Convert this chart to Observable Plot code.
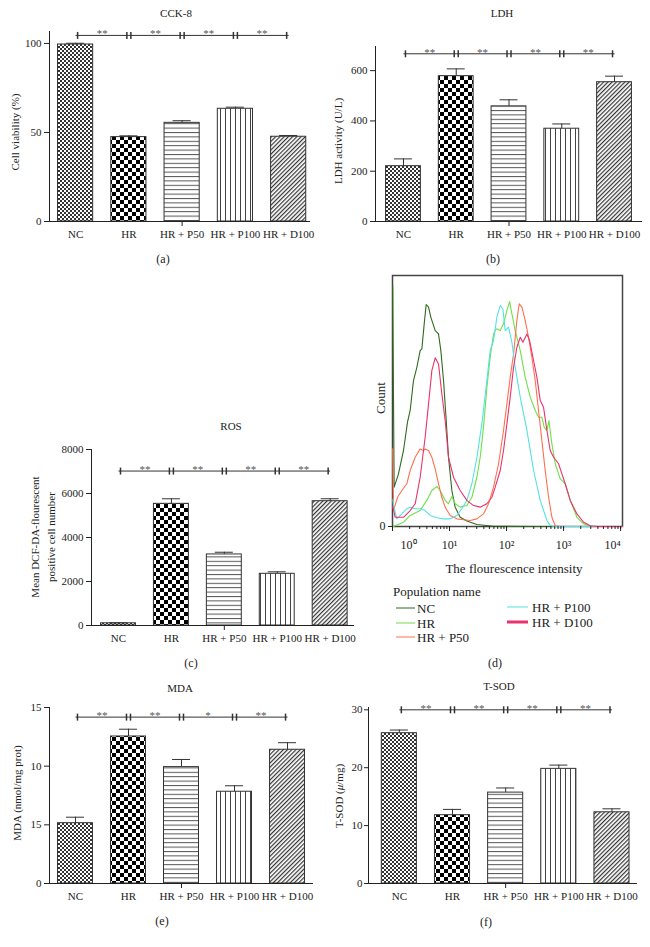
<!DOCTYPE html>
<html><head><meta charset="utf-8">
<script src="https://cdn.jsdelivr.net/npm/d3@7"></script>
<script src="https://cdn.jsdelivr.net/npm/@observablehq/plot@0.6"></script>
<style>
body{margin:0;background:#fff;}
#root{position:relative;width:650px;height:947px;font-family:"Liberation Serif",serif;color:#222;overflow:hidden;}
.t{position:absolute;transform:translate(-50%,-50%);white-space:nowrap;line-height:1;}
.r{position:absolute;transform:translate(-50%,-50%) rotate(-90deg);white-space:nowrap;text-align:center;}
.lg{position:absolute;white-space:nowrap;font-size:13px;line-height:1;transform:translateY(-50%);display:flex;align-items:center;}
.lg span.sw{display:inline-block;margin-right:2px;}
</style>
</head><body>
<svg width="0" height="0" style="position:absolute">
<defs>
<pattern id="pNC" width="4" height="4" patternUnits="userSpaceOnUse"><rect width="4" height="4" fill="#fff"/><rect width="2" height="2" fill="#333"/><rect x="2" y="2" width="2" height="2" fill="#333"/></pattern>
<pattern id="pHR" width="8" height="8" patternUnits="userSpaceOnUse"><rect width="8" height="8" fill="#fff"/><rect width="4" height="4" fill="#000"/><rect x="4" y="4" width="4" height="4" fill="#000"/></pattern>
<pattern id="pP50" width="6" height="4.4" patternUnits="userSpaceOnUse"><rect width="6" height="4.4" fill="#fff"/><rect width="6" height="1" fill="#555"/></pattern>
<pattern id="pP100" width="5" height="6" patternUnits="userSpaceOnUse"><rect width="5" height="6" fill="#fff"/><rect width="1" height="6" fill="#444"/></pattern>
<pattern id="pD100" width="3" height="3" patternUnits="userSpaceOnUse" patternTransform="rotate(45)"><rect width="3" height="3" fill="#fff"/><rect width="1.2" height="3" fill="#333"/></pattern>
</defs></svg>
<div id="root"></div>
<script>
// ---------- data ----------
const groups = ["NC", "HR", "HR + P50", "HR + P100", "HR + D100"];
const groupIndex = [0, 1, 2, 3, 4];
const barFills = ["url(#pNC)", "url(#pHR)", "url(#pP50)", "url(#pP100)", "url(#pD100)"];
const sigPairs = [[0, 1], [1, 2], [2, 3], [3, 4]];

// (a) CCK-8
const cckMean = [99.4, 47.4, 55.4, 63.3, 47.6];
const cckErr = [0.7, 0.7, 1.2, 0.9, 0.7];
const cckTicks = [0, 50, 100];
const cckSig = ["**", "**", "**", "**"];
const cckSigY = 104.5;

// (b) LDH
const ldhMean = [220, 578, 458, 369, 554];
const ldhErr = [29, 29, 26, 19, 24];
const ldhTicks = [0, 200, 400, 600];
const ldhSig = ["**", "**", "**", "**"];
const ldhSigY = 667;

// (c) ROS
const rosMean = [100, 5530, 3230, 2350, 5650];
const rosErr = [20, 230, 100, 90, 110];
const rosTicks = [0, 2000, 4000, 6000, 8000];
const rosSig = ["**", "**", "**", "**"];
const rosSigY = 7020;

// (e) MDA
const mdaMean = [5.14, 12.53, 9.92, 7.82, 11.40];
const mdaErr = [0.51, 0.62, 0.65, 0.51, 0.60];
const mdaTicks = [0, 5, 10, 15];
const mdaTickLabels = ["0", "15", "10", "15"];
const mdaSig = ["**", "**", "*", "**"];
const mdaSigY = 14.18;

// (f) T-SOD
const sodMean = [25.96, 11.8, 15.7, 19.8, 12.3];
const sodErr = [0.55, 1.0, 0.8, 0.65, 0.6];
const sodTicks = [0, 10, 20, 30];
const sodSig = ["**", "**", "**", "**"];
const sodSigY = 30;

// (d) flow cytometry histograms: [log10 fluorescence intensity, count (% of max)]
const flowNames = ["NC", "HR", "HR + P50", "HR + P100", "HR + D100"];
const flowColors = ["#2f6b1e", "#6ee04a", "#ff7050", "#55e2e2", "#e8336b"];
const flowTicks = [1, 10, 100, 1000, 10000];
const flowSup = ["\u2070", "\u00b9", "\u00b2", "\u00b3", "\u2074"];
const flowNC = [[0.003,107.1],[0.029,17.5],[0.105,23.4],[0.193,33.8],[0.263,46.4],[0.31,51.6],[0.368,64.9],[0.427,70.8],[0.485,78.2],[0.515,79.0],[0.556,90.1],[0.591,98.7],[0.632,97.5],[0.673,93.0],[0.749,87.1],[0.807,85.6],[0.848,78.2],[0.895,64.9],[0.942,47.1],[0.982,30.8],[1.041,16.0],[1.099,8.6],[1.187,4.1],[1.304,2.4],[1.48,0.9],[1.772,0.1],[2.5,0],[4.03,0]];
const flowHR = [[0.018,0],[0.047,0.3],[0.193,1.9],[0.31,4.9],[0.485,7.1],[0.602,11.6],[0.69,16.0],[0.778,17.8],[0.836,16.0],[0.924,11.6],[0.982,10.1],[1.041,13.3],[1.099,10.1],[1.187,8.6],[1.304,9.3],[1.392,13.0],[1.48,21.9],[1.538,30.8],[1.596,44.1],[1.655,61.9],[1.713,75.3],[1.772,85.6],[1.819,87.9],[1.889,87.1],[1.947,90.1],[2.006,96.0],[2.053,100],[2.094,94.5],[2.152,87.1],[2.24,78.2],[2.327,66.4],[2.415,57.5],[2.503,51.6],[2.561,48.6],[2.62,48.6],[2.661,44.1],[2.708,42.7],[2.743,47.1],[2.795,36.7],[2.854,27.9],[2.942,21.2],[3.029,19.0],[3.117,11.6],[3.234,4.1],[3.351,1.2],[3.468,0],[4.03,0]];
const flowP50 = [[0.003,34.5],[0.018,7.1],[0.088,13.0],[0.164,16.0],[0.251,19.0],[0.31,24.9],[0.398,30.8],[0.485,34.5],[0.544,33.8],[0.573,34.5],[0.632,33.8],[0.69,30.8],[0.749,25.6],[0.807,19.0],[0.865,13.0],[0.924,8.6],[1.012,4.9],[1.129,3.4],[1.246,3.0],[1.363,2.7],[1.48,3.4],[1.596,5.6],[1.684,10.1],[1.772,17.5],[1.86,27.9],[1.947,42.7],[2.006,54.5],[2.064,66.4],[2.123,76.7],[2.181,91.6],[2.222,99.0],[2.269,97.5],[2.327,91.6],[2.386,84.1],[2.444,75.3],[2.503,64.9],[2.561,51.6],[2.62,38.2],[2.678,24.9],[2.737,13.0],[2.795,4.1],[2.854,0.3],[2.95,0],[4.03,0]];
const flowP100 = [[0.006,12.0],[0.018,9.3],[0.076,3.4],[0.164,5.6],[0.251,7.9],[0.31,8.6],[0.398,7.9],[0.485,7.9],[0.573,7.1],[0.661,4.9],[0.778,3.9],[0.895,3.4],[1.012,3.4],[1.129,4.9],[1.216,7.9],[1.304,11.6],[1.392,19.0],[1.48,30.8],[1.567,45.6],[1.655,64.9],[1.713,78.2],[1.772,82.7],[1.83,93.0],[1.889,98.2],[1.936,96.7],[1.977,87.1],[2.035,88.6],[2.094,81.9],[2.152,70.8],[2.24,57.5],[2.357,42.7],[2.474,24.9],[2.591,11.6],[2.708,2.7],[2.766,0.4],[2.85,0],[4.03,0]];
const flowD100 = [[0.003,9.0],[0.047,4.1],[0.193,4.1],[0.31,7.1],[0.398,10.1],[0.485,21.9],[0.573,39.7],[0.632,54.5],[0.69,69.3],[0.749,75.0],[0.807,72.3],[0.865,59.0],[0.924,47.1],[0.982,30.8],[1.07,21.9],[1.187,16.0],[1.304,11.6],[1.421,9.3],[1.538,8.6],[1.655,10.1],[1.743,13.0],[1.801,17.5],[1.889,24.9],[1.947,33.8],[2.006,45.6],[2.064,57.5],[2.123,70.8],[2.181,79.7],[2.24,84.1],[2.287,81.9],[2.357,85.6],[2.404,82.7],[2.474,73.8],[2.532,66.4],[2.591,56.0],[2.649,53.0],[2.708,42.7],[2.766,33.8],[2.825,30.8],[2.912,27.9],[2.971,23.4],[3.029,19.0],[3.117,11.6],[3.234,5.6],[3.351,1.9],[3.468,0.3],[3.6,0],[4.03,0]];
const flowSeries = [flowNC, flowHR, flowP50, flowP100, flowD100];

// ---------- layout helpers ----------
const root = document.getElementById("root");
const FONT = '"Liberation Serif", serif';
function place(node, left, top, w) {
  const d = document.createElement("div");
  d.style.cssText = `position:absolute;left:${left}px;top:${top}px;width:${w}px;`;
  d.appendChild(node);
  root.appendChild(d);
}
function txt(html, x, y, size, cls = "t") {
  const d = document.createElement("div");
  d.className = cls;
  d.style.left = x + "px";
  d.style.top = y + "px";
  d.style.fontSize = size + "px";
  d.innerHTML = html;
  root.appendChild(d);
  return d;
}
const vbar = {draw(ctx, size) { const r = Math.sqrt(size / Math.PI); ctx.moveTo(0, -r); ctx.lineTo(0, r); }};

function barPanel(o) {
  const rows = groups.map((g, i) => ({i, m: o.mean[i], hi: o.mean[i] + o.err[i]}));
  const br = sigPairs.map(([a, b], k) => ({a, b, mid: (a + b) / 2, y: o.sigY, lab: o.sig[k]}));
  const fmt = o.tickLabels ? (d) => o.tickLabels[o.ticks.indexOf(d)] : (d) => String(d);
  return Plot.plot({
    width: o.w, height: o.h,
    marginLeft: o.mL, marginRight: o.mR, marginTop: o.mT, marginBottom: o.mB,
    x: {domain: o.xDom}, y: {domain: o.yDom},
    style: {fontFamily: FONT, fontSize: "11px", color: "#222", background: "none", overflow: "visible", maxWidth: "none"},
    marks: [
      ...rows.map(r => Plot.rectY([r], {x1: d => d.i - 0.33, x2: d => d.i + 0.33, y1: 0, y2: "m", fill: barFills[r.i], stroke: "#333", strokeWidth: 1})),
      Plot.ruleX(rows, {x: "i", y1: "m", y2: "hi", stroke: "#333"}),
      Plot.ruleY(rows, {y: "hi", x1: d => d.i - 0.17, x2: d => d.i + 0.17, stroke: "#333"}),
      Plot.ruleY([0], {stroke: "#222"}),
      Plot.ruleX([o.xDom[0]], {stroke: "#222"}),
      Plot.axisY({ticks: o.ticks, tickFormat: fmt, tickSize: o.ts ?? 5, tickPadding: o.tp ?? 3, label: null}),
      Plot.axisX({ticks: groupIndex, tickFormat: i => groups[i], tickSize: 0, tickPadding: 9, label: null}),
      Plot.axisX({ticks: [2], tickFormat: () => "", tickSize: 5, label: null}),
      Plot.link(br, {x1: "a", x2: "b", y1: "y", y2: "y", stroke: "#333"}),
      Plot.dot(br, {x: "a", y: "y", symbol: vbar, r: 3.5, fill: "none", stroke: "#333", dx: 2}),
      Plot.dot(br, {x: "b", y: "y", symbol: vbar, r: 3.5, fill: "none", stroke: "#333", dx: -2}),
      Plot.text(br, {x: "mid", y: "y", text: "lab", lineAnchor: "bottom", dy: 2, fill: "#555", fontSize: 11})
    ]
  });
}

// (a)
place(barPanel({w: 320, h: 250, mL: 49, mR: 10, mT: 31, mB: 29, xDom: [-0.49, 4.41], yDom: [0, 106.7],
  ticks: cckTicks, mean: cckMean, err: cckErr, sig: cckSig, sigY: cckSigY}), 0, 0, 320);
// (b)
place(barPanel({w: 330, h: 250, mL: 55, mR: 8, mT: 46, mB: 29, xDom: [-0.53, 4.53], yDom: [0, 696],
  ticks: ldhTicks, mean: ldhMean, err: ldhErr, sig: ldhSig, sigY: ldhSigY}), 320, 0, 330);
// (c)
place(barPanel({w: 360, h: 230, mL: 91, mR: 6, mT: 29, mB: 25, xDom: [-0.51, 4.46], yDom: [0, 8000],
  ticks: rosTicks, mean: rosMean, err: rosErr, sig: rosSig, sigY: rosSigY}), 0, 420, 360);
// (e)
place(barPanel({w: 320, h: 215, mL: 49, mR: 7, mT: 10, mB: 29, xDom: [-0.49, 4.49], yDom: [0, 15],
  ticks: mdaTicks, tickLabels: mdaTickLabels, mean: mdaMean, err: mdaErr, sig: mdaSig, sigY: mdaSigY}), 0, 697, 320);
// (f)
place(barPanel({w: 330, h: 215, mL: 48, mR: 13, mT: 10, mB: 29, xDom: [-0.58, 4.48], yDom: [0, 30.4],
  ticks: sodTicks, mean: sodMean, err: sodErr, sig: sodSig, sigY: sodSigY, ts: 4, tp: 2}), 320, 697, 330);

// (d) flow histogram
const supFmt = d => "10" + flowSup[Math.round(Math.log10(d))];
const flow = Plot.plot({
  width: 290, height: 300, marginLeft: 42, marginRight: 18, marginTop: 10, marginBottom: 39,
  x: {type: "log", domain: [1, 10800]}, y: {domain: [0, 111.6]},
  style: {fontFamily: FONT, fontSize: "12px", color: "#222", background: "none", overflow: "visible", maxWidth: "none"},
  marks: [
    Plot.frame({stroke: "#444", strokeWidth: 1.5}),
    ...flowSeries.map((s, k) => Plot.line(s, {x: d => 10 ** d[0], y: d => d[1], stroke: flowColors[k], strokeWidth: 1.1})),
    Plot.axisX({ticks: flowTicks, tickSize: 5, tickFormat: () => "", label: null}),
    Plot.axisX({ticks: 30, tickSize: 3, tickFormat: () => "", label: null}),
    Plot.axisX({ticks: flowTicks.slice(1, 4), tickSize: 0, tickPadding: 14, tickFormat: supFmt, label: null}),
    Plot.axisX({ticks: [flowTicks[0]], tickSize: 0, tickPadding: 14, tickFormat: supFmt, textAnchor: "start", dx: 8, label: null}),
    Plot.axisX({ticks: [flowTicks[4]], tickSize: 0, tickPadding: 14, tickFormat: supFmt, textAnchor: "end", label: null}),
    Plot.axisY({ticks: [0], tickSize: 4, tickPadding: 3, label: null})
  ]
});
place(flow, 350, 265, 290);

// ---------- text ----------
txt("CCK-8", 176, 13, 11);
txt("LDH", 502, 13, 11);
txt("ROS", 231, 426, 11);
txt("MDA", 180, 688, 11);
txt("T-SOD", 499, 686, 11);
txt("(a)", 163, 259, 12);
txt("(b)", 493, 259, 12);
txt("(c)", 191, 663, 12);
txt("(d)", 495, 663, 12);
txt("(e)", 162, 921, 12);
txt("(f)", 486, 922, 12);
txt("Cell viability (%)", 15, 132, 11, "r");
txt("LDH activity (U/L)", 338, 141, 11, "r");
const rl = txt("Mean DCF-DA-flourescent<br>positive cell number", 43, 537, 11, "r");
rl.style.lineHeight = "16px";
txt("MDA (nmol/mg prot)", 17, 793, 11, "r");
txt("T-SOD (<i>\u03bc</i>/mg)", 339, 796, 11, "r");
txt("Count", 381, 398, 13, "r");
txt("The flourescence intensity", 514, 568, 13);
txt("Population name", 393, 591, 13, "lg");

// legend
const legendPos = [[396, 608, 19], [396, 623, 19], [396, 637, 19], [507, 607, 21], [507, 622, 21]];
flowNames.forEach((n, k) => {
  const [x, y, w] = legendPos[k];
  const d = document.createElement("div");
  d.className = "lg";
  d.style.left = x + "px";
  d.style.top = y + "px";
  const sw = document.createElement("span");
  sw.className = "sw";
  sw.style.width = w + "px";
  sw.style.height = (k === 4 ? 2.5 : 1.5) + "px";
  sw.style.background = flowColors[k];
  if (k >= 3) sw.style.marginRight = "4px";
  d.appendChild(sw);
  d.appendChild(document.createTextNode(n));
  root.appendChild(d);
});
</script>
</body></html>
